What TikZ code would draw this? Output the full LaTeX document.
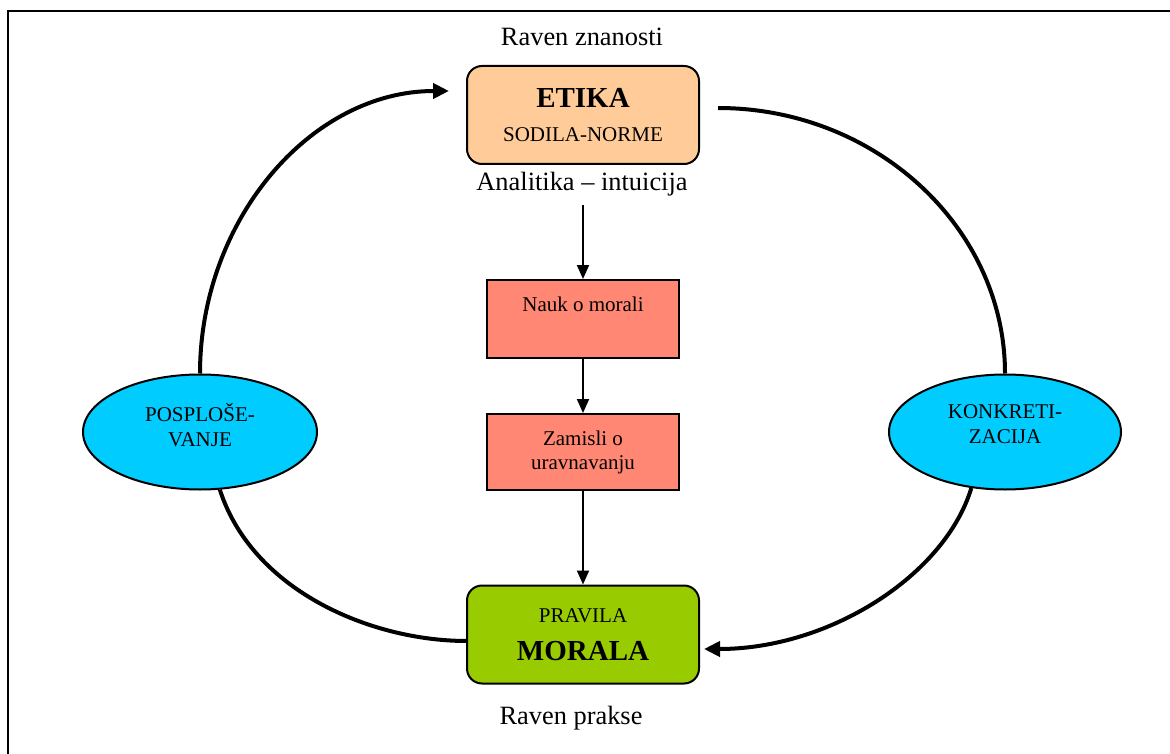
\documentclass[tikz,border=0pt]{standalone}
\usepackage{fontspec}
\setmainfont{Liberation Serif}
\usetikzlibrary{arrows.meta,shapes.geometric}
\definecolor{peach}{RGB}{255,204,153}
\definecolor{salmonbox}{RGB}{255,135,115}
\definecolor{limebox}{RGB}{153,204,0}
\definecolor{skyell}{RGB}{0,204,255}
\begin{document}
\begin{tikzpicture}[x=1pt,y=-1pt,
  rbox/.style={draw,line width=2pt,rounded corners=15pt,minimum width=232pt,minimum height=98pt,align=center,inner sep=0pt},
  sbox/.style={draw,line width=2pt,fill=salmonbox,minimum width=192pt,align=center,inner xsep=0pt,inner ysep=0pt,font=\fontsize{21}{24}\selectfont},
  ell/.style={draw,line width=2pt,ellipse,fill=skyell,minimum height=115pt,inner sep=0pt,align=center,text depth=15pt,font=\fontsize{21}{25}\selectfont},
  lbl/.style={font=\fontsize{26.4}{30}\selectfont,inner sep=0pt},
  thinarrow/.style={line width=2pt,-{Triangle[length=14pt,width=12pt]}},
  thickline/.style={line width=4pt},
  thickarrow/.style={line width=4pt,-{Triangle[length=16pt,width=15pt]}}]
\useasboundingbox (0,0) rectangle (1170,754);
\clip (0,0) rectangle (1170,754);
% frame (right and bottom edges lie outside the picture)
\draw[line width=2.5pt] (8,780) -- (8,11) -- (1190,11);

% labels
\node[lbl] (rz) at (582,37) {Raven znanosti};
\node[lbl] (ai) at (582,184) {Analitika -- intuicija};
\node[lbl] (rp) at (571,718) {Raven prakse};

% boxes
\node[rbox,fill=peach,font=\fontsize{21}{34}\selectfont] (etika) at (583,115)
  {{\fontsize{29}{34}\bfseries ETIKA}\\SODILA-NORME};
\node[sbox,anchor=north,text height=31pt,text depth=47pt] (nauk) at (583,279) {Nauk o morali};
\node[sbox,minimum height=76pt] (zam) at (583,452) {Zamisli o\\uravnavanju};
\node[rbox,fill=limebox,font=\fontsize{21}{37.6}\selectfont] (prav) at (583,634.5)
  {PRAVILA\\{\fontsize{29}{37.6}\bfseries MORALA}};

% ellipses
\node[ell,minimum width=234pt] (pos) at (200,432) {POSPLOŠE-\\VANJE};
\node[ell,minimum width=232pt] (kon) at (1005,432) {KONKRETI-\\ZACIJA};

% free ends
\coordinate (aistart) at (583,205);
\coordinate (tipL) at (449,91);
\coordinate (startR) at (718,108);
\coordinate (tipR) at (704,649);
\coordinate (endL) at (467,641);

% vertical arrows
\draw[thinarrow] (aistart) -- (nauk.north);
\draw[thinarrow] (nauk.south) -- (zam.north);
\draw[thinarrow] (zam.south) -- (prav.north);

% cycle arcs
\draw[thickarrow] (pos.north) .. controls (200,220) and (311,91) .. (tipL);
\draw[thickline] (startR) .. controls (876,108) and (1005,228) .. (kon.north);
\draw[thickarrow] (kon.239) .. controls (945,575) and (830,649) .. (tipR);
\draw[thickline] (pos.289) .. controls (252,590) and (370,641) .. (endL);
\end{tikzpicture}
\end{document}
